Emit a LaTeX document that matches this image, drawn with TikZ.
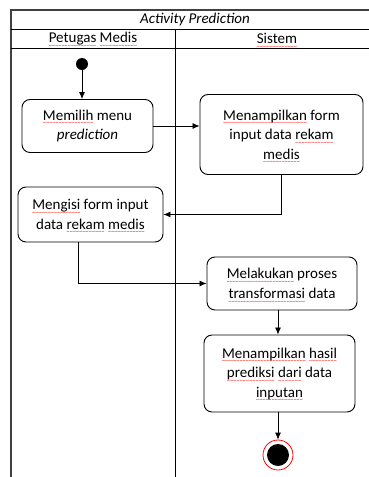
\documentclass[tikz,border=0pt]{standalone}
\usepackage{fontspec}
\setmainfont{Carlito}
\usetikzlibrary{arrows.meta}
\newcommand{\redsq}[1]{\setbox0\hbox{#1}\rlap{\raisebox{-4.6pt}[0pt][0pt]{\color{red}\fontsize{6}{6}\selectfont\hbox to \wd0{\xleaders\hbox{\char"7E}\hfil}}}\box0\relax}

\begin{document}
\begin{tikzpicture}[x = 1pt, y = -1pt, font = \fontsize{15}{19.5}\selectfont,
  act/.style = {draw, rounded corners = 8pt, line width = 0.9pt, fill = white, align = center, inner sep = 0pt},
  flow/.style = {-{Latex[length = 7pt, width = 6pt]}, line width = 0.8pt}]
\useasboundingbox (0, 0) rectangle (369, 477);
\clip (0, 0) rectangle (369, 477);
\draw[line width = 1.1pt, black!75] (11, 477) -- (11, 10) -- (380, 10);
\draw[line width = 0.8pt] (11, 29) -- (380, 29);
\draw[line width = 0.8pt] (11, 48) -- (380, 48);
\draw[line width = 0.8pt] (175, 29) -- (175, 477);
\node (judul) at (195, 19.5) {\textit{Activity Prediction}};
\node (lane1) at (93, 38.5) {\redsq{Petugas} \redsq{Medis}};
\node (lane2) at (277, 38.5) {\redsq{Sistem}};

\node[circle, fill, inner sep = 0pt, minimum size = 12pt] (mulai) at (82, 64) {};
\node[act, minimum width = 131pt, minimum height = 53pt] (pilih) at (87.5, 126) {\redsq{Memilih} menu\\\textit{prediction}};
\node[act, minimum width = 163pt, minimum height = 80pt] (form) at (281.5, 134.5) {\redsq{Menampilkan} form\\input data \redsq{rekam}\\\redsq{medis}};
\node[act, minimum width = 145pt, minimum height = 55pt] (isi) at (90.5, 214.5) {\redsq{Mengisi} form input\\data \redsq{rekam} \redsq{medis}};
\node[act, minimum width = 150pt, minimum height = 53pt] (proses) at (282, 283.5) {\redsq{Melakukan} proses\\\redsq{transformasi} data};
\node[act, minimum width = 151pt, minimum height = 77pt] (hasil) at (279.5, 373.5) {\redsq{Menampilkan} \redsq{hasil}\\\redsq{prediksi} \redsq{dari} data\\\redsq{inputan}};
\node[circle, draw = red, line width = 0.8pt, fill = white, inner sep = 0pt, minimum size = 30pt] (selesai) at (278, 455) {};
\node[circle, fill, inner sep = 0pt, minimum size = 22pt] (selesaiIn) at (selesai) {};

\draw[flow] (mulai) -- (mulai |- pilih.north);
\draw[flow] (pilih.east) -- (pilih.east -| form.west);
\draw[flow] (form.south) |- (isi.east);
\draw[flow] ([xshift = -12pt]isi.south) |- (proses.west);
\draw[flow] (proses.south -| selesai) -- (hasil.north -| selesai);
\draw[flow] (hasil.south -| selesai) -- (selesai.north);
\end{tikzpicture}
\end{document}
